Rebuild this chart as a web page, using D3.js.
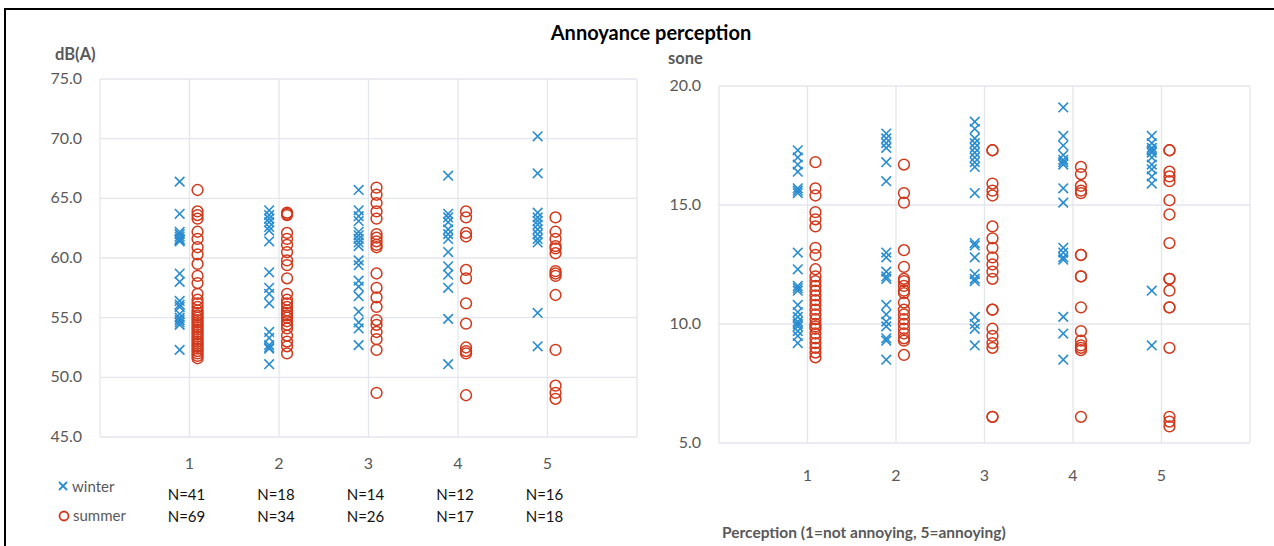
<!DOCTYPE html>
<html>
<head>
<meta charset="utf-8">
<script src="https://cdn.jsdelivr.net/npm/d3@7"></script>
<style>
  body { margin: 0; background: #fff; }
  text { font-family: Lato, "Open Sans", sans-serif; }
</style>
</head>
<body>
<div id="chart"></div>
<script>
// Annoyance perception: winter (x) vs summer (o) per perception class

const categories = [1, 2, 3, 4, 5];
const winterN = [41, 18, 14, 12, 16];
const summerN = [69, 34, 26, 17, 18];

// dB(A) values per category
const winterDb = [
  [66.4, 63.7, 62.2, 62.0, 61.8, 61.6, 61.4, 61.5, 58.7, 58.0, 56.4, 56.1, 55.9, 55.3, 55.0, 54.8, 54.6, 54.4, 52.3],
  [64.0, 63.6, 63.3, 63.0, 62.6, 62.3, 61.4, 58.8, 57.5, 57.0, 56.2, 53.8, 53.3, 52.7, 52.5, 52.4, 51.1],
  [65.7, 64.0, 63.5, 63.1, 62.2, 61.9, 61.6, 61.3, 61.0, 59.8, 59.4, 58.1, 57.6, 56.8, 55.5, 54.6, 54.1, 52.7],
  [66.9, 63.7, 63.4, 63.0, 62.4, 62.0, 61.6, 60.5, 59.3, 58.6, 57.5, 54.9, 51.1],
  [70.2, 67.1, 63.8, 63.4, 63.1, 62.8, 62.4, 62.0, 61.6, 61.3, 55.4, 52.6]
];
const summerDb = [
  [65.7, 63.9, 63.6, 63.3, 62.2, 61.6, 60.9, 60.3, 59.5, 58.5, 57.9, 57.0, 56.5, 56.2, 55.9, 55.6, 55.4, 55.2, 55.0,
   54.8, 54.6, 54.4, 54.2, 54.0, 53.8, 53.6, 53.4, 53.2, 53.0, 52.8, 52.6, 52.4, 52.2, 52.0, 51.8, 51.6],
  [63.8, 63.7, 63.6, 62.1, 61.6, 61.1, 60.5, 59.8, 59.4, 58.3, 57.0, 56.5, 56.2, 55.9, 55.6, 55.4, 55.2, 55.0,
   54.7, 54.4, 54.1, 53.5, 53.0, 52.6, 52.0],
  [65.9, 65.3, 64.6, 63.9, 63.3, 62.0, 61.7, 61.4, 61.1, 60.9, 58.7, 57.5, 56.7, 55.9, 54.8, 54.4, 53.8, 53.2, 52.3, 48.7],
  [63.9, 63.4, 62.1, 61.8, 59.0, 58.3, 56.2, 54.5, 52.5, 52.2, 52.0, 48.5],
  [63.4, 62.2, 61.6, 61.0, 60.8, 60.4, 58.9, 58.7, 58.5, 56.9, 52.3, 49.3, 48.7, 48.2]
];

// sone values per category
const winterSone = [
  [17.3, 17.0, 16.7, 16.4, 15.7, 15.6, 15.5, 13.0, 12.3, 11.6, 11.5, 11.4, 10.8, 10.5, 10.3, 10.1, 10.0, 9.9, 9.7, 9.5, 9.2],
  [18.0, 17.8, 17.6, 17.4, 16.8, 16.0, 13.0, 12.8, 12.2, 12.0, 11.9, 10.8, 10.4, 10.1, 9.9, 9.4, 9.3, 8.5],
  [18.5, 18.2, 17.8, 17.6, 17.4, 17.2, 17.0, 16.8, 16.6, 15.5, 13.4, 13.3, 12.8, 12.1, 11.9, 11.8, 10.3, 10.0, 9.8, 9.1],
  [19.1, 17.9, 17.5, 17.1, 16.9, 16.8, 16.7, 15.7, 15.1, 13.2, 13.0, 12.8, 12.7, 10.3, 9.6, 8.5],
  [17.9, 17.6, 17.4, 17.3, 17.2, 17.0, 16.7, 16.5, 16.2, 15.9, 11.4, 9.1]
];
const summerSone = [
  [16.8, 15.7, 15.4, 14.7, 14.4, 14.1, 13.2, 12.9, 12.3, 12.0, 11.8, 11.6, 11.4, 11.2, 11.0, 10.8, 10.6, 10.4,
   10.2, 10.0, 9.9, 9.8, 9.6, 9.4, 9.2, 9.0, 8.8, 8.6],
  [16.7, 15.5, 15.1, 13.1, 12.4, 11.9, 11.8, 11.6, 11.4, 11.3, 10.9, 10.6, 10.4, 10.2, 10.0, 9.8, 9.6, 9.4, 9.3, 8.7],
  [17.3, 17.3, 15.9, 15.6, 15.4, 14.1, 13.6, 13.2, 12.8, 12.5, 12.2, 11.9, 10.6, 10.6, 9.8, 9.5, 9.2, 9.0, 6.1, 6.1],
  [16.6, 16.3, 15.8, 15.6, 15.5, 12.9, 12.9, 12.0, 12.0, 10.7, 9.7, 9.3, 9.1, 9.0, 8.9, 6.1],
  [17.3, 17.3, 16.4, 16.2, 16.0, 15.2, 14.6, 13.4, 11.9, 11.9, 11.4, 10.7, 10.7, 9.0, 6.1, 5.9, 5.7]
];

const dbTicks = [45, 50, 55, 60, 65, 70, 75];
const soneTicks = [5, 10, 15, 20];

const width = 1274, height = 546;
const blue = "#2a8dd0", red = "#d1391c", grey = "#595959", grid = "#e3e6ec";

const svg = d3.select("#chart").append("svg")
    .attr("width", width)
    .attr("height", height);

svg.append("rect").attr("width", width).attr("height", height).attr("fill", "#fff");

// outer frame
svg.append("path")
    .attr("d", `M5,${height} V9 H${width}`)
    .attr("fill", "none")
    .attr("stroke", "#000")
    .attr("stroke-width", 2);

svg.append("text")
    .attr("x", 651).attr("y", 40)
    .attr("text-anchor", "middle")
    .style("font-size", "20px")
    .style("font-weight", "bold")
    .attr("fill", "#000")
    .text("Annoyance perception");

const drawPanel = (cfg) => {
  const x = d3.scaleLinear().domain([0, 6]).range([cfg.left, cfg.right]);
  const y = d3.scaleLinear().domain(cfg.domain).range([cfg.bottom, cfg.top]);
  const g = svg.append("g");

  // gridlines
  g.append("g")
    .selectAll("line")
    .data(cfg.ticks)
    .join("line")
      .attr("x1", cfg.left).attr("x2", cfg.right)
      .attr("y1", d => y(d)).attr("y2", d => y(d))
      .attr("stroke", grid).attr("stroke-width", 1.3);
  g.append("g")
    .selectAll("line")
    .data(d3.range(0, 7))
    .join("line")
      .attr("x1", d => x(d)).attr("x2", d => x(d))
      .attr("y1", cfg.top).attr("y2", cfg.bottom)
      .attr("stroke", grid).attr("stroke-width", 1.3);

  // y axis labels
  g.append("g")
    .selectAll("text")
    .data(cfg.ticks)
    .join("text")
      .attr("x", cfg.left - 18)
      .attr("y", d => y(d) + 5)
      .attr("text-anchor", "end")
      .style("font-size", "16px")
      .attr("fill", grey)
      .text(d => d.toFixed(1));

  // x axis labels
  g.append("g")
    .selectAll("text")
    .data(categories)
    .join("text")
      .attr("x", d => x(d))
      .attr("y", cfg.xLabelY)
      .attr("text-anchor", "middle")
      .style("font-size", "16px")
      .attr("fill", grey)
      .text(d => d);

  g.append("text")
    .attr("x", cfg.unitX).attr("y", cfg.unitY)
    .style("font-size", "16.5px")
    .style("font-weight", "bold")
    .attr("fill", grey)
    .text(cfg.unit);

  // summer circles
  const summerPts = cfg.summer.flatMap((vals, i) => vals.map(v => ({c: categories[i], v})));
  g.append("g")
    .selectAll("circle")
    .data(summerPts)
    .join("circle")
      .attr("cx", d => x(d.c + 0.09))
      .attr("cy", d => y(d.v))
      .attr("r", 5.4)
      .attr("fill", "none")
      .attr("stroke", red)
      .attr("stroke-width", 1.5);

  // winter crosses
  const winterPts = cfg.winter.flatMap((vals, i) => vals.map(v => ({c: categories[i], v})));
  const s = 4.8;
  g.append("g")
    .selectAll("path")
    .data(winterPts)
    .join("path")
      .attr("d", d => {
        const px = x(d.c - 0.11), py = y(d.v);
        return `M${px - s},${py - s}L${px + s},${py + s}M${px - s},${py + s}L${px + s},${py - s}`;
      })
      .attr("stroke", blue)
      .attr("stroke-width", 1.6);

  return x;
};

const xLeft = drawPanel({
  left: 100, right: 637, top: 79, bottom: 437,
  domain: [45, 75], ticks: dbTicks,
  winter: winterDb, summer: summerDb,
  xLabelY: 469, unit: "dB(A)", unitX: 55, unitY: 60
});

drawPanel({
  left: 719, right: 1250, top: 86, bottom: 443,
  domain: [5, 20], ticks: soneTicks,
  winter: winterSone, summer: summerSone,
  xLabelY: 481, unit: "sone", unitX: 668, unitY: 64
});

// legend
const legend = svg.append("g");
legend.append("path")
    .attr("d", "M59,482L67,490M59,490L67,482")
    .attr("stroke", blue).attr("stroke-width", 1.8);
legend.append("text")
    .attr("x", 72).attr("y", 492)
    .style("font-size", "15px").attr("fill", grey)
    .text("winter");
legend.append("circle")
    .attr("cx", 64).attr("cy", 516).attr("r", 4.5)
    .attr("fill", "none").attr("stroke", red).attr("stroke-width", 1.8);
legend.append("text")
    .attr("x", 73).attr("y", 521)
    .style("font-size", "15px").attr("fill", grey)
    .text("summer");

// N counts under the left panel
svg.append("g")
  .selectAll("text")
  .data(winterN)
  .join("text")
    .attr("x", (d, i) => xLeft(categories[i]) - 3)
    .attr("y", 500)
    .attr("text-anchor", "middle")
    .style("font-size", "15px").attr("fill", "#111")
    .text(d => "N=" + d);
svg.append("g")
  .selectAll("text")
  .data(summerN)
  .join("text")
    .attr("x", (d, i) => xLeft(categories[i]) - 3)
    .attr("y", 522)
    .attr("text-anchor", "middle")
    .style("font-size", "15px").attr("fill", "#111")
    .text(d => "N=" + d);

svg.append("text")
    .attr("x", 722).attr("y", 538)
    .style("font-size", "15.5px")
    .style("font-weight", "bold")
    .attr("fill", grey)
    .text("Perception (1=not annoying, 5=annoying)");
</script>
</body>
</html>
